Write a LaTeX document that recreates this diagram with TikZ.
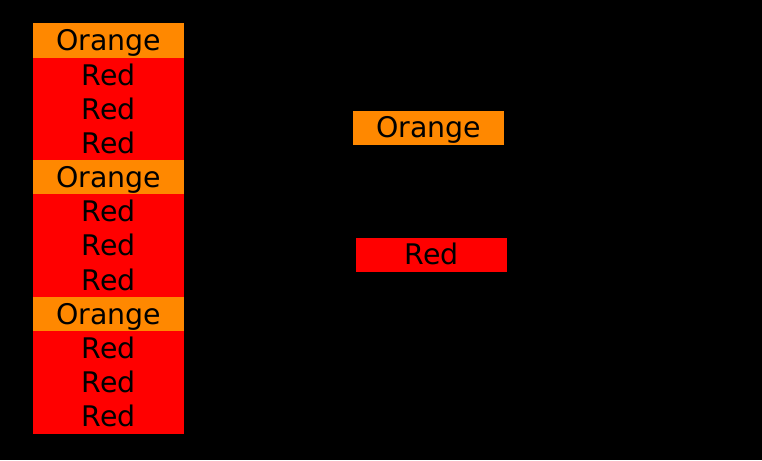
\documentclass[tikz,border=0pt]{standalone}
\usepackage{fontspec}
\setmainfont{DejaVu Sans}
\usetikzlibrary{positioning}
\definecolor{boxorange}{RGB}{255,136,0}
\definecolor{boxred}{RGB}{255,0,0}
\tikzset{
    cell/.style={minimum width=151pt,minimum height=34.17pt,inner sep=0pt,outer sep=0pt,
        text height=20.7pt,text depth=0pt,
        font=\fontsize{28.4}{32}\selectfont,text=black},
    orangecell/.style={cell,fill=boxorange},
    redcell/.style={cell,fill=boxred}
}
\begin{document}
\begin{tikzpicture}[x=1pt,y=-1pt]
    \fill[black] (0,0) rectangle (762,460);
    \useasboundingbox (0,0) rectangle (762,460);
    % left column
    \node[orangecell,anchor=north west] (o1) at (33,23.5) {Orange};
    \node[redcell,below=0pt of o1] (r1) {Red};
    \node[redcell,below=0pt of r1] (r2) {Red};
    \node[redcell,below=0pt of r2] (r3) {Red};
    \node[orangecell,below=0pt of r3] (o2) {Orange};
    \node[redcell,below=0pt of o2] (r4) {Red};
    \node[redcell,below=0pt of r4] (r5) {Red};
    \node[redcell,below=0pt of r5] (r6) {Red};
    \node[orangecell,below=0pt of r6] (o3) {Orange};
    \node[redcell,below=0pt of o3] (r7) {Red};
    \node[redcell,below=0pt of r7] (r8) {Red};
    \node[redcell,below=0pt of r8] (r9) {Red};
    % right side
    \node[orangecell,anchor=north west] (ocell) at (353,110.5) {Orange};
    \node[redcell,anchor=north west] (rcell) at (356,237.5) {Red};
\end{tikzpicture}
\end{document}
